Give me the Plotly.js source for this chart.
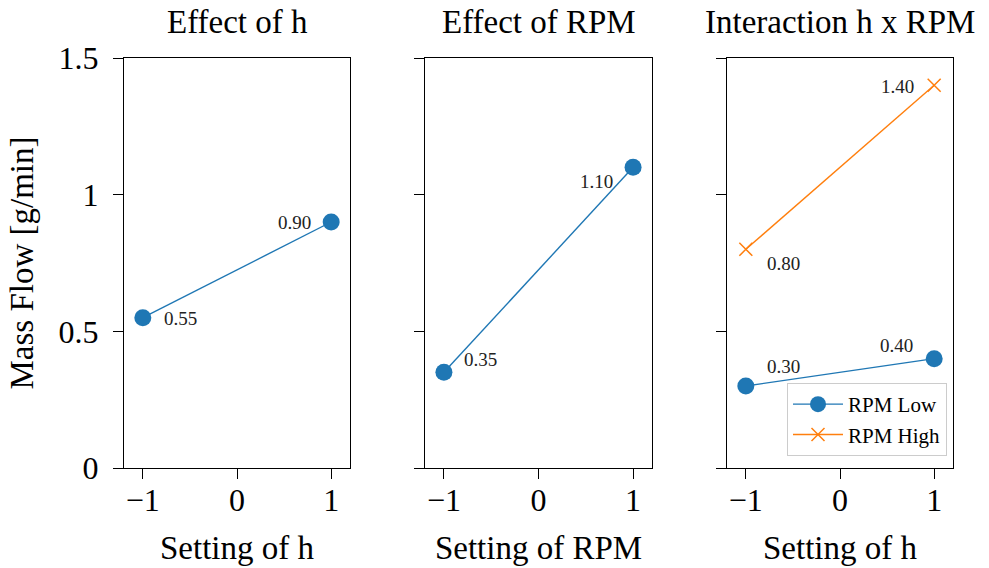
<!DOCTYPE html>
<html>
<head>
<meta charset="utf-8">
<script src="https://cdn.plot.ly/plotly-3.0.1.min.js"></script>
<style>html,body{margin:0;padding:0;background:#fff;}#chart{width:989px;height:568px;}</style>
</head>
<body>
<div id="chart"></div>
<script>
// ---- data ----
const settings = [-1, 1];
const effectH = [0.55, 0.90];
const effectRPM = [0.35, 1.10];
const interRPMLow = [0.30, 0.40];
const interRPMHigh = [0.80, 1.40];
const subplotTitles = ["Effect of h", "Effect of RPM", "Interaction h x RPM"];
const xTitles = ["Setting of h", "Setting of RPM", "Setting of h"];
const yTitle = "Mass Flow [g/min]";
const seriesNames = ["RPM Low", "RPM High"];
const yTickVals = [0, 0.5, 1, 1.5];
const yTickText = ["0", "0.5", "1", "1.5"];
const xTickVals = [-1, 0, 1];

const FONT = "Liberation Serif, DejaVu Serif, serif";
const BLUE = "#1f77b4", ORANGE = "#ff7f0e";
const W = 989, H = 568;
const dom = [[124, 350], [425, 652], [727, 953]];
const ydom = [1 - 468 / H, 1 - 58 / H];
const TICKSZ = 32, TITLESZ = 33, AXTSZ = 33;

function xa(i) {
  return {
    domain: [dom[i][0] / W, dom[i][1] / W], range: [-1.2, 1.2],
    tickvals: xTickVals, ticks: "outside", ticklen: 10, tickwidth: 1, tickcolor: "#000",
    ticklabelstandoff: -6,
    showline: true, linecolor: "#000", linewidth: 1, mirror: true,
    showgrid: false, zeroline: false,
    tickfont: {family: FONT, size: TICKSZ, color: "#000"},
    anchor: i === 0 ? "y" : "y" + (i + 1),
    title: {text: xTitles[i], font: {family: FONT, size: AXTSZ, color: "#000"}, standoff: 18}
  };
}
function ya(i) {
  return {
    domain: ydom, range: [0, 1.5],
    tickvals: yTickVals, ticktext: yTickText, showticklabels: i === 0,
    ticks: "outside", ticklen: 10, tickwidth: 1, tickcolor: "#000",
    ticklabelstandoff: 8,
    showline: true, linecolor: "#000", linewidth: 1, mirror: true,
    showgrid: false, zeroline: false,
    tickfont: {family: FONT, size: TICKSZ, color: "#000"},
    anchor: i === 0 ? "x" : "x" + (i + 1),
    title: i === 0 ? {text: yTitle, font: {family: FONT, size: AXTSZ, color: "#000"}, standoff: 15} : {text: ""}
  };
}

const lineW = 1.4;
const traces = [
  {x: settings, y: effectH, xaxis: "x", yaxis: "y", mode: "lines+markers", showlegend: false,
   line: {color: BLUE, width: lineW}, marker: {color: BLUE, size: 17, symbol: "circle"}},
  {x: settings, y: effectRPM, xaxis: "x2", yaxis: "y2", mode: "lines+markers", showlegend: false,
   line: {color: BLUE, width: lineW}, marker: {color: BLUE, size: 17, symbol: "circle"}},
  {x: settings, y: interRPMLow, xaxis: "x3", yaxis: "y3", mode: "lines+markers", name: seriesNames[0],
   line: {color: BLUE, width: lineW}, marker: {color: BLUE, size: 17, symbol: "circle"}},
  {x: settings, y: interRPMHigh, xaxis: "x3", yaxis: "y3", mode: "lines+markers", name: seriesNames[1],
   line: {color: ORANGE, width: lineW}, marker: {color: ORANGE, size: 13, symbol: "x-thin-open", line: {color: ORANGE, width: 1.5}}}
];

function lbl(xref, yref, x, y, dx, dy) {
  return {x: x, y: y, xref: xref, yref: yref, text: y.toFixed(2), showarrow: false,
          xshift: dx, yshift: dy, font: {family: FONT, size: 19, color: "#222"}};
}
const annotations = [
  lbl("x", "y", settings[0], effectH[0], 38, -1),
  lbl("x", "y", settings[1], effectH[1], -37, 0),
  lbl("x2", "y2", settings[0], effectRPM[0], 37, 13),
  lbl("x2", "y2", settings[1], effectRPM[1], -37, -14),
  lbl("x3", "y3", settings[0], interRPMHigh[0], 38, -14),
  lbl("x3", "y3", settings[1], interRPMHigh[1], -37, -1),
  lbl("x3", "y3", settings[0], interRPMLow[0], 38, 20),
  lbl("x3", "y3", settings[1], interRPMLow[1], -38, 13)
];
subplotTitles.forEach((t, i) => {
  annotations.push({text: t, xref: "paper", yref: "paper", x: (dom[i][0] + dom[i][1]) / 2 / W,
    y: 1 - 22 / H, showarrow: false, xanchor: "center", yanchor: "middle",
    font: {family: FONT, size: TITLESZ, color: "#000"}});
});

const layout = {
  width: W, height: H, margin: {l: 0, r: 0, t: 0, b: 0},
  paper_bgcolor: "#fff", plot_bgcolor: "#fff",
  font: {family: FONT, color: "#000"},
  xaxis: xa(0), yaxis: ya(0), xaxis2: xa(1), yaxis2: ya(1), xaxis3: xa(2), yaxis3: ya(2),
  annotations: annotations,
  legend: {x: 947 / W, y: 1 - 456 / H, xanchor: "right", yanchor: "bottom",
    bgcolor: "rgba(255,255,255,0.8)", bordercolor: "#ccc", borderwidth: 1,
    font: {family: FONT, size: 21, color: "#000"}, tracegroupgap: 0, itemwidth: 50},
  showlegend: true
};
Plotly.newPlot("chart", traces, layout, {displayModeBar: false, staticPlot: true});
</script>
</body>
</html>
